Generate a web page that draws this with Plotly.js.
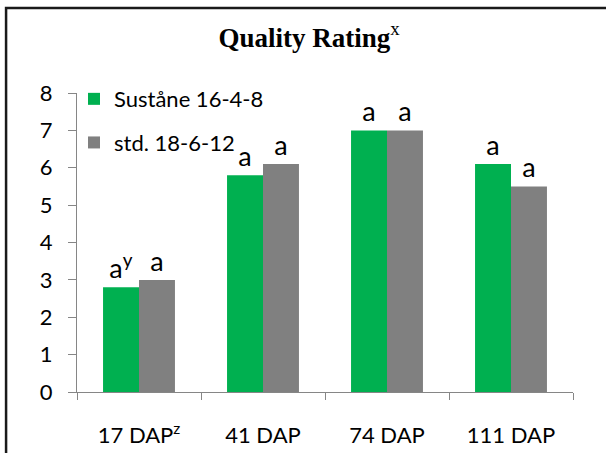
<!DOCTYPE html>
<html>
<head>
<meta charset="utf-8">
<script src="https://cdn.plot.ly/plotly-3.0.1.min.js"></script>
<style>
html,body{margin:0;padding:0;background:#fff;}
#chart{width:606px;height:453px;}
</style>
</head>
<body>
<div id="chart"></div>
<script>
// Data
const categories = ['17 DAP<sup>z</sup>', '41 DAP', '74 DAP', '111 DAP'];
const seriesNames = ['Suståne 16-4-8', 'std. 18-6-12'];
const sustaneValues = [2.8, 5.8, 7.0, 6.1];
const stdValues = [3.0, 6.1, 7.0, 5.5];
const sustaneLabels = ['a<sup>y</sup>', 'a', 'a', 'a'];
const stdLabels = ['a', 'a', 'a', 'a'];
const yTickValues = [0, 1, 2, 3, 4, 5, 6, 7, 8];

const FONT = 'Lato, "Open Sans", sans-serif';
const labelFont = {family: FONT, size: 27, color: '#000'};

const traces = [
  {
    type: 'bar', name: seriesNames[0], x: categories, y: sustaneValues,
    marker: {color: '#00B050'},
    text: sustaneLabels, textposition: 'outside', textfont: labelFont,
    cliponaxis: false, legendgroup: 'g1', hoverinfo: 'none'
  },
  {
    type: 'bar', name: seriesNames[1], x: categories, y: stdValues,
    marker: {color: '#808080'},
    text: stdLabels, textposition: 'outside', textfont: labelFont,
    cliponaxis: false, legendgroup: 'g2', hoverinfo: 'none'
  }
];

const layout = {
  width: 606, height: 453,
  margin: {l: 77, r: 33, t: 93, b: 61, pad: 0},
  paper_bgcolor: '#fff', plot_bgcolor: '#fff',
  barmode: 'group', bargap: 0.42, bargroupgap: 0,
  showlegend: true,
  title: {
    text: '<b>Quality Rating</b><sup>x</sup>',
    font: {family: '"Liberation Serif", serif', size: 27, color: '#000'},
    x: 0.51, xref: 'container', xanchor: 'center',
    y: 0.918, yref: 'container', yanchor: 'middle'
  },
  legend: {
    x: -0.006, y: 1.05, xanchor: 'left', yanchor: 'top',
    bgcolor: 'rgba(0,0,0,0)', borderwidth: 0,
    font: {family: FONT, size: 22, color: '#000'},
    tracegroupgap: 12, traceorder: 'grouped'
  },
  xaxis: {
    type: 'category',
    showline: true, linecolor: '#868686', linewidth: 1,
    ticks: 'outside', tickson: 'boundaries', ticklen: 7, tickcolor: '#868686',
    tickfont: {family: FONT, size: 22, color: '#000'},
    ticklabelstandoff: 24,
    showgrid: false, zeroline: false, fixedrange: true
  },
  yaxis: {
    range: [0, 8], tickvals: yTickValues,
    showline: true, linecolor: '#868686', linewidth: 1,
    ticks: 'outside', ticklen: 8, tickcolor: '#868686',
    tickfont: {family: FONT, size: 22, color: '#000'},
    ticklabelstandoff: 11,
    showgrid: false, zeroline: false, fixedrange: true
  },
  shapes: [{
    type: 'rect', xref: 'paper', yref: 'paper',
    x0: -0.143, x1: 1.08, y0: -0.25, y1: 1.284,
    line: {color: '#1a1a1a', width: 2.5}, fillcolor: 'rgba(0,0,0,0)', layer: 'above'
  }]
};

Plotly.newPlot('chart', traces, layout, {staticPlot: true, displayModeBar: false});
</script>
</body>
</html>
